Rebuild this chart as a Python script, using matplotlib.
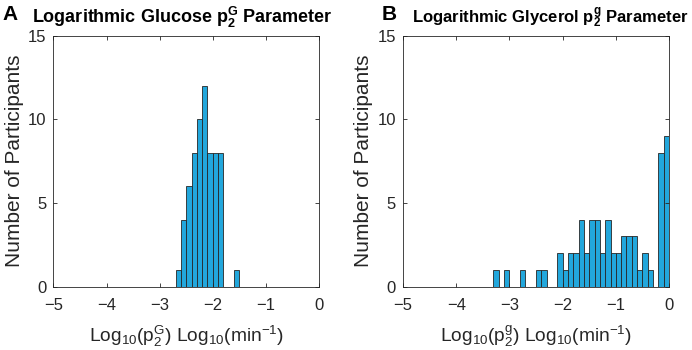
import numpy as np
import matplotlib
matplotlib.use("Agg")
import matplotlib.pyplot as plt

plt.rcParams['font.family'] = ['Liberation Sans', 'DejaVu Sans']
plt.rcParams['mathtext.fontset'] = 'custom'
plt.rcParams['mathtext.rm'] = 'Liberation Sans'
plt.rcParams['mathtext.it'] = 'Liberation Sans'
plt.rcParams['mathtext.bf'] = 'Liberation Sans:bold'

# Histogram data (bin width 0.1 in log10 units)
bin_width = 0.1
glucose_start = -2.7
glucose_counts = [1, 4, 6, 8, 10, 12, 8, 8, 8, 0, 0, 1]
glycerol_start = -3.3
glycerol_counts = [1, 0, 1, 0, 0, 1, 0, 0, 1, 1, 0, 0,
                   2, 1, 2, 2, 4, 2, 4, 4, 2, 4, 2, 2, 3, 3, 3, 1, 2, 1,
                   0, 8, 9]

titles = [r'Logarithmic Glucose $\mathbf{p_2^G}$ Parameter',
          r'Logarithmic Glycerol $\mathbf{p_2^g}$ Parameter']
xlabels = [r'$\mathrm{Log_{10}(p_2^G)\ Log_{10}(min^{-1})}$',
           r'$\mathrm{Log_{10}(p_2^g)\ Log_{10}(min^{-1})}$']
title_x = [0.486, 0.553]
title_size = [13, 12]

bar_color = '#22a7dc'
dark = '#262626'

fig = plt.figure(figsize=(6.92, 3.5), dpi=100)
ax1 = fig.add_axes([0.0773, 0.1814, 0.3837, 0.717])
ax2 = fig.add_axes([0.5824, 0.1814, 0.3844, 0.717])

datasets = [(glucose_start, glucose_counts), (glycerol_start, glycerol_counts)]
for i, (ax, (start, counts)) in enumerate(zip([ax1, ax2], datasets)):
    counts = np.array(counts)
    lefts = start + bin_width * np.arange(len(counts))
    ax.bar(lefts, counts, width=bin_width, align='edge',
           color=bar_color, edgecolor=dark, linewidth=0.6)
    ax.set_xlim(-5, 0)
    ax.set_ylim(0, 15)
    ax.set_xticks([-5, -4, -3, -2, -1, 0])
    ax.set_yticks([0, 5, 10, 15])
    ax.tick_params(direction='in', top=True, right=True, labelsize=12,
                   colors=dark, length=3, width=0.6)
    ax.tick_params(axis='x', pad=8)
    ax.tick_params(axis='y', pad=5)
    for s in ax.spines.values():
        s.set_color(dark)
        s.set_linewidth(0.6)
    ax.set_ylabel('Number of Participants', fontsize=15, color=dark, labelpad=3)
    ax.set_xlabel(xlabels[i], fontsize=13.8, color=dark, labelpad=8)
    t = ax.set_title(titles[i], fontsize=title_size[i], fontweight='bold', pad=9)
    t.set_x(title_x[i])

fig.text(0.004, 0.986, 'A', fontsize=15, fontweight='bold', va='top')
fig.text(0.551, 0.986, 'B', fontsize=15, fontweight='bold', va='top')

fig.savefig('out.png', dpi=100)
